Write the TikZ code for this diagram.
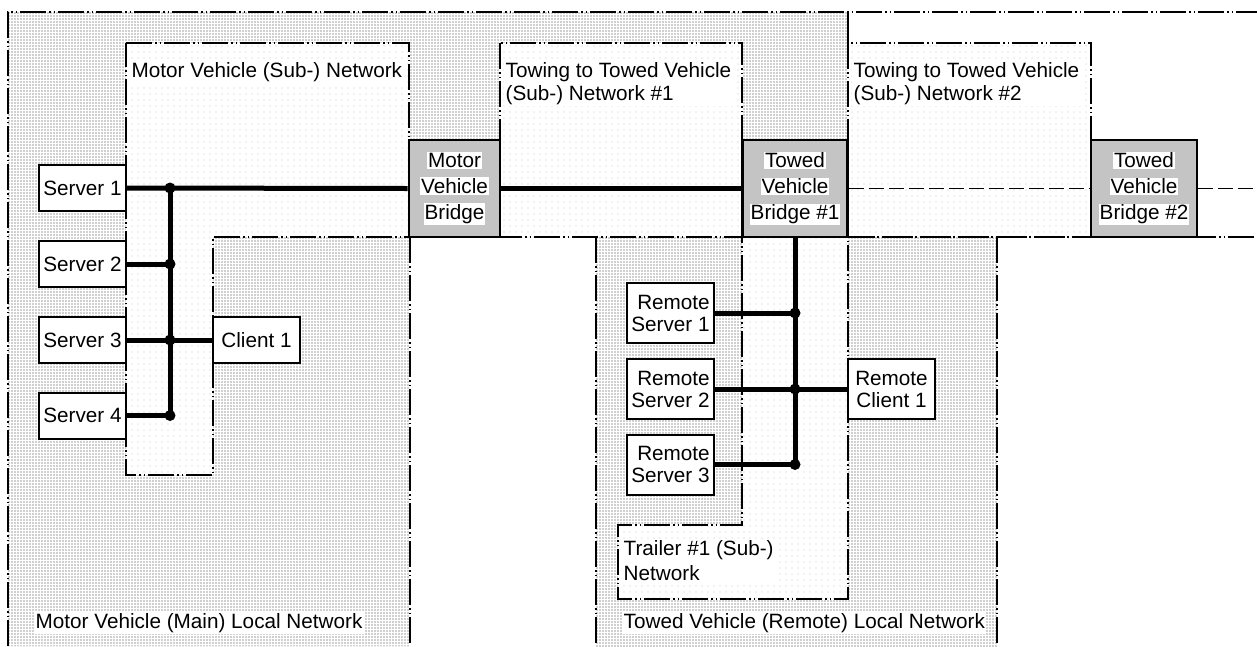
\documentclass[tikz,border=0pt]{standalone}
\usepackage{fontspec}
\setmainfont{Liberation Sans}
\usetikzlibrary{patterns.meta}
\newcommand\whiteline[1]{{\setlength\fboxsep{1pt}\colorbox{white}{#1}}}
\begin{document}
\begin{tikzpicture}[x=1pt,y=-1pt,
  font=\fontsize{20.7}{23}\selectfont,
  densefill/.style={pattern={Dots[distance=3pt,radius=0.7pt]},pattern color=black!80},
  sparsefill/.style={preaction={fill=white},pattern={Dots[distance=6pt,radius=0.45pt]},pattern color=black!60},
  netline/.style={line width=1.2pt,dash pattern=on 26pt off 3pt on 1.5pt off 3pt on 1.5pt off 3pt},
  devbox/.style={draw,line width=2pt,fill=white,minimum width=87pt,inner sep=0pt,align=center},
  bridgebox/.style={draw,line width=2.7pt,preaction={fill=white},pattern={Dots[distance=2pt,radius=0.6pt]},pattern color=black,minimum height=97pt,inner sep=0pt,align=center,font=\fontsize{20.7}{26}\selectfont},
  bus/.style={line width=5pt},
  link/.style={line width=1.3pt,dash pattern=on 15pt off 5pt},
  lbl/.style={fill=white,inner sep=1.5pt,align=left,anchor=west}
]
\useasboundingbox (0,0) rectangle (1257,646);
% local network fills
\fill[densefill] (8,12) -- (848,12) -- (848,237) -- (410,237) -- (410,646) -- (8,646) -- cycle;
\fill[densefill] (596,237) rectangle (997,646);
% sub-network fills
\fill[sparsefill] (126,43) -- (409,43) -- (409,237) -- (213,237) -- (213,475) -- (126,475) -- cycle;
\fill[sparsefill] (500,43) rectangle (742,237);
\fill[sparsefill] (848,43) rectangle (1091,237);
\fill[sparsefill] (742,237) -- (848,237) -- (848,599) -- (618,599) -- (618,525) -- (742,525) -- cycle;
% outlines
\draw[netline] (8,646) -- (8,12) -- (1257,12);
\draw[line width=1.2pt] (848,12) -- (848,43);
\draw[netline] (410,237) -- (410,646);
\draw[netline] (596,237) -- (596,646);
\draw[netline] (997,237) -- (997,646);
\draw[netline] (848,237) -- (1257,237);
\draw[netline] (126,43) -- (409,43) -- (409,237) -- (213,237) -- (213,475) -- (126,475) -- cycle;
\draw[netline] (500,43) rectangle (742,237);
\draw[netline] (848,43) rectangle (1091,237);
\draw[netline] (742,237) -- (848,237) -- (848,599) -- (618,599) -- (618,525) -- (742,525) -- cycle;
% labels
\node[lbl] (lmvsub) at (130,72) {Motor Vehicle (Sub-) Network};
\node[lbl] (ltow1) at (504,83.5) {Towing to Towed Vehicle\\(Sub-) Network \#1};
\node[lbl] (ltow2) at (852,83.5) {Towing to Towed Vehicle\\(Sub-) Network \#2};
\node[lbl,font=\fontsize{20.7}{25}\selectfont] (ltrailer) at (622,561) {Trailer \#1 (Sub-)\\Network};
\node[lbl] (lmain) at (34,623) {Motor Vehicle (Main) Local Network};
\node[lbl] (ltowed) at (622,623) {Towed Vehicle (Remote) Local Network};
% devices
\node[devbox,minimum height=46pt] (s1) at (82.5,188) {Server 1};
\node[devbox,minimum height=46pt] (s2) at (82.5,264) {Server 2};
\node[devbox,minimum height=46pt] (s3) at (82.5,340) {Server 3};
\node[devbox,minimum height=46pt] (s4) at (82.5,415.5) {Server 4};
\node[devbox,minimum height=46pt] (c1) at (256.5,340) {Client 1};
\node[bridgebox,minimum width=91pt] (mb) at (454.5,188.5) {\whiteline{Motor}\\\whiteline{Vehicle}\\\whiteline{Bridge}};
\node[bridgebox,minimum width=105pt] (tb1) at (795,188.5) {\whiteline{Towed}\\\whiteline{Vehicle}\\\whiteline{Bridge \#1}};
\node[bridgebox,minimum width=106pt] (tb2) at (1144,188.5) {\whiteline{Towed}\\\whiteline{Vehicle}\\\whiteline{Bridge \#2}};
\node[devbox,minimum height=60pt,font=\fontsize{20.7}{22}\selectfont] (rs1) at (670.5,313) {\hspace*{6pt}Remote\\Server 1};
\node[devbox,minimum height=60pt,font=\fontsize{20.7}{22}\selectfont] (rs2) at (670.5,389) {\hspace*{6pt}Remote\\Server 2};
\node[devbox,minimum height=60pt,font=\fontsize{20.7}{22}\selectfont] (rs3) at (670.5,464.5) {\hspace*{6pt}Remote\\Server 3};
\node[devbox,minimum height=60pt,font=\fontsize{20.7}{22}\selectfont] (rc1) at (891.5,389) {Remote\\Client 1};
% junctions
\coordinate (j1) at (170,188);
\coordinate (j2) at (170,264);
\coordinate (j3) at (170,340);
\coordinate (j4) at (170,415.5);
\coordinate (rj1) at (795,313);
\coordinate (rj2) at (795,389);
\coordinate (rj3) at (795,464.5);
\coordinate (rend) at (1257,188.5);
% connectors
\draw[bus] (s1.east) -- (mb.west);
\draw[bus] (j1) -- (j4);
\draw[bus] (s2.east) -- (j2);
\draw[bus] (s3.east) -- (c1.west);
\draw[bus] (s4.east) -- (j4);
\draw[bus] (mb.east) -- (tb1.west);
\draw[link] (tb1.east) -- (tb2.west);
\draw[link] (tb2.east) -- (rend);
\draw[bus] (tb1.south) -- (rj3);
\draw[bus] (rs1.east) -- (rj1);
\draw[bus] (rs2.east) -- (rc1.west);
\draw[bus] (rs3.east) -- (rj3);
\foreach \j in {j1,j2,j3,j4,rj1,rj2,rj3} \fill (\j) circle[radius=5.5pt];
\end{tikzpicture}
\end{document}
